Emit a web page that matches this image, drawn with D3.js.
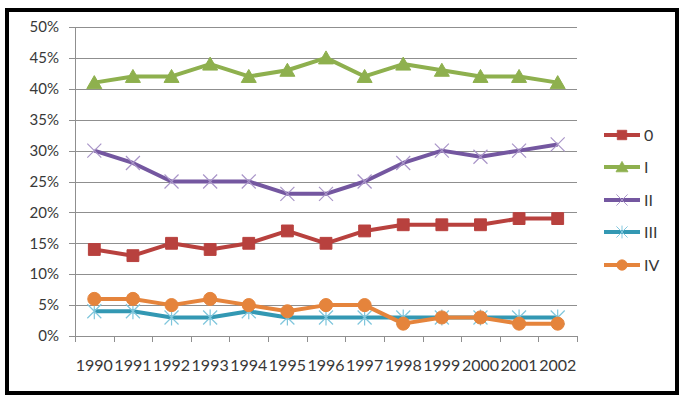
<!DOCTYPE html>
<html>
<head>
<meta charset="utf-8">
<script src="https://cdn.jsdelivr.net/npm/d3@7"></script>
<style>
  body { margin: 0; background: #fff; }
  text { font-family: Lato, "Liberation Sans", sans-serif; fill: #383838; }
</style>
</head>
<body>
<div id="chart"></div>
<script>
const years = ["1990","1991","1992","1993","1994","1995","1996","1997","1998","1999","2000","2001","2002"];
const seriesNames = ["0", "I", "II", "III", "IV"];
const s0   = [14, 13, 15, 14, 15, 17, 15, 17, 18, 18, 18, 19, 19];
const sI   = [41, 42, 42, 44, 42, 43, 45, 42, 44, 43, 42, 42, 41];
const sII  = [30, 28, 25, 25, 25, 23, 23, 25, 28, 30, 29, 30, 31];
const sIII = [4, 4, 3, 3, 4, 3, 3, 3, 3, 3, 3, 3, 3];
const sIV  = [6, 6, 5, 6, 5, 4, 5, 5, 2, 3, 3, 2, 2];
const yTicks = [0, 5, 10, 15, 20, 25, 30, 35, 40, 45, 50];

const series = [
  { name: seriesNames[0], values: s0,   line: "#B8413E", mark: "#B8413E", shape: "square" },
  { name: seriesNames[1], values: sI,   line: "#8EB04E", mark: "#8EB04E", shape: "triangle" },
  { name: seriesNames[2], values: sII,  line: "#7457A0", mark: "#A995C8", shape: "x" },
  { name: seriesNames[3], values: sIII, line: "#3398B3", mark: "#7FC6DC", shape: "star" },
  { name: seriesNames[4], values: sIV,  line: "#E5843C", mark: "#E5843C", shape: "circle" }
];

const W = 685, H = 401;
const svg = d3.select("#chart").append("svg")
    .attr("width", W).attr("height", H);

// frame
svg.append("rect")
    .attr("x", 7).attr("y", 10).attr("width", 670).attr("height", 383)
    .attr("fill", "#fff").attr("stroke", "#000").attr("stroke-width", 4);

const x = d3.scaleBand().domain(years).range([75, 577]);
const y = d3.scaleLinear().domain([0, 50]).range([336, 27]);

// gridlines + y labels
svg.append("g").selectAll("line")
  .data(yTicks)
  .join("line")
    .attr("x1", 69).attr("x2", 577)
    .attr("y1", d => Math.round(y(d)) + 0.5).attr("y2", d => Math.round(y(d)) + 0.5)
    .attr("stroke", "#8f8f8f").attr("stroke-width", 1);

svg.append("g").selectAll("text")
  .data(yTicks)
  .join("text")
    .attr("x", 59).attr("y", d => y(d))
    .attr("dy", "0.35em")
    .attr("text-anchor", "end")
    .style("font-size", "15px")
    .text(d => d + "%");

// y axis line
svg.append("line")
    .attr("x1", 75.5).attr("x2", 75.5).attr("y1", y(50)).attr("y2", y(0))
    .attr("stroke", "#8f8f8f");

// x axis ticks at category boundaries
const bounds = years.map(d => x(d)).concat([x.range()[1]]);
svg.append("g").selectAll("line")
  .data(bounds)
  .join("line")
    .attr("x1", d => Math.round(d) + 0.5).attr("x2", d => Math.round(d) + 0.5)
    .attr("y1", y(0)).attr("y2", y(0) + 6)
    .attr("stroke", "#8f8f8f");

svg.append("g")
    .attr("transform", `translate(0,${y(0)})`)
    .call(d3.axisBottom(x).tickSize(0).tickPadding(0))
    .call(g => g.select(".domain").remove())
    .selectAll("text")
      .attr("y", 35)
      .attr("dy", 0)
      .style("font-size", "16px")
      .style("font-family", "Lato, sans-serif")
      .attr("fill", "#383838");

// marker shapes
function markerPath(shape) {
  switch (shape) {
    case "square": return d3.symbol(d3.symbolSquare, 140)();
    case "triangle": return "M0,-7L7.5,6L-7.5,6Z";
    case "circle": return d3.symbol(d3.symbolCircle, 135)();
    case "x": return "M-7,-7L7,7M-7,7L7,-7";
    case "star": return "M-7,-7L7,7M-7,7L7,-7M0,-8L0,8";
  }
}

function drawMarker(g, s) {
  const filled = s.shape === "square" || s.shape === "triangle" || s.shape === "circle";
  g.append("path")
    .attr("d", markerPath(s.shape))
    .attr("fill", filled ? s.mark : "none")
    .attr("stroke", s.mark)
    .attr("stroke-width", filled ? 1 : 1.2);
}

const line = d3.line()
    .x((d, i) => x(years[i]) + x.bandwidth() / 2)
    .y(d => y(d));

series.forEach(s => {
  svg.append("path")
      .datum(s.values)
      .attr("fill", "none")
      .attr("stroke", s.line)
      .attr("stroke-width", 4)
      .attr("stroke-linejoin", "round")
      .attr("d", line);
  svg.append("g").selectAll("g")
    .data(s.values)
    .join("g")
      .attr("transform", (d, i) => `translate(${x(years[i]) + x.bandwidth() / 2},${y(d)})`)
      .each(function() { drawMarker(d3.select(this), s); });
});

// legend
const legendY = [135, 167, 200, 232, 265];
series.forEach((s, i) => {
  const g = svg.append("g").attr("transform", `translate(604,${legendY[i]})`);
  g.append("line").attr("x1", 0).attr("x2", 36).attr("y1", 0).attr("y2", 0)
    .attr("stroke", s.line).attr("stroke-width", 4);
  const m = g.append("g").attr("transform", "translate(18,0) scale(0.8)");
  drawMarker(m, s);
  g.append("text").attr("x", 40).attr("y", 0).attr("dy", "0.36em")
    .style("font-size", "16px").text(s.name);
});
</script>
</body>
</html>
